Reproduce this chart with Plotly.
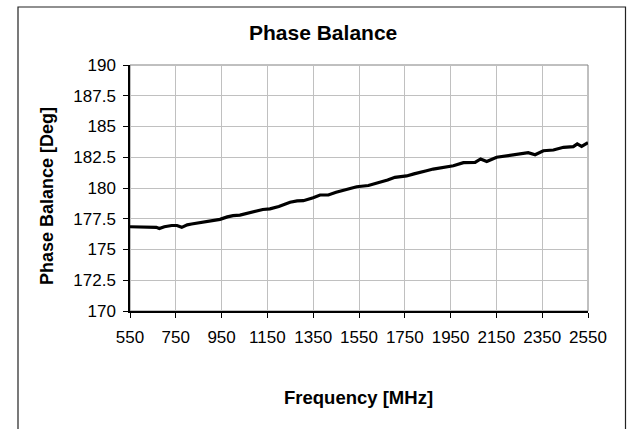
import plotly.graph_objects as go

freq_mhz = [550, 600, 650, 665, 678, 700, 732, 755, 776, 800, 819, 850, 877, 910, 943,
            975, 1000, 1030, 1060, 1100, 1130, 1161, 1200, 1249, 1280, 1307, 1350, 1380,
            1416, 1450, 1489, 1515, 1540, 1591, 1642, 1675, 1707, 1758, 1790, 1816, 1845,
            1874, 1918, 1962, 2006, 2057, 2081, 2108, 2151, 2209, 2253, 2289, 2319, 2355,
            2399, 2443, 2486, 2503, 2522, 2550]
phase_deg = [176.85, 176.85, 176.85, 176.8, 176.7, 176.85, 176.95, 176.95, 176.8, 177.0,
             177.07, 177.15, 177.26, 177.3, 177.45, 177.65, 177.75, 177.8, 177.95, 178.1,
             178.25, 178.3, 178.5, 178.84, 178.95, 178.97, 179.2, 179.43, 179.43, 179.65,
             179.84, 179.95, 180.1, 180.2, 180.46, 180.65, 180.87, 180.98, 181.15, 181.3,
             181.4, 181.54, 181.68, 181.81, 182.06, 182.09, 182.36, 182.15, 182.5, 182.63,
             182.74, 182.87, 182.7, 183.03, 183.09, 183.31, 183.36, 183.58, 183.38, 183.68]

x_ticks = [550, 750, 950, 1150, 1350, 1550, 1750, 1950, 2150, 2350, 2550]
y_ticks = [170, 172.5, 175, 177.5, 180, 182.5, 185, 187.5, 190]
y_tick_labels = ["170", "172.5", "175", "177.5", "180", "182.5", "185", "187.5", "190"]

FONT = "Liberation Sans, Arial, sans-serif"

fig = go.Figure()
fig.add_trace(go.Scatter(x=freq_mhz, y=phase_deg, mode="lines",
                         line=dict(color="black", width=3.2), showlegend=False))

W, H = 632, 429
L, R, T, B = 130, 588, 65, 311
pw, ph = R - L, B - T

def px(xp):
    return (xp - L) / pw

def py(yp):
    return (B - yp) / ph

fig.update_layout(
    width=W, height=H,
    margin=dict(l=L, r=W - R, t=T, b=H - B),
    paper_bgcolor="white", plot_bgcolor="white",
    font=dict(family=FONT, color="black", size=17),
    xaxis=dict(range=[550, 2550], tickvals=x_ticks, ticks="outside", ticklen=5,
               tickcolor="black", showgrid=True, gridcolor="#c0c0c0", gridwidth=1,
               showline=True, linecolor="black", linewidth=1.5, zeroline=False,
               tickfont=dict(size=17), ticklabelstandoff=5),
    yaxis=dict(range=[170, 190], tickvals=y_ticks, ticktext=y_tick_labels,
               ticks="outside", ticklen=5, tickcolor="black", showgrid=True,
               gridcolor="#c0c0c0", gridwidth=1, showline=True, linecolor="black",
               linewidth=1.5, zeroline=False, tickfont=dict(size=17),
               ticklabelstandoff=4),
    shapes=[
        dict(type="rect", xref="paper", yref="paper", x0=0, x1=1, y0=0, y1=1,
             line=dict(color="#808080", width=1), layer="below"),
        dict(type="rect", xref="paper", yref="paper", x0=px(18), x1=px(625.5),
             y0=py(440), y1=py(7), line=dict(color="#222222", width=1.2)),
    ],
    annotations=[
        dict(text="<b>Phase Balance</b>", xref="paper", yref="paper", x=px(323), y=py(33),
             showarrow=False, font=dict(size=21), xanchor="center", yanchor="middle"),
        dict(text="<b>Frequency [MHz]</b>", xref="paper", yref="paper", x=px(358), y=py(397),
             showarrow=False, font=dict(size=18.5), xanchor="center", yanchor="middle"),
        dict(text="<b>Phase Balance [Deg]</b>", xref="paper", yref="paper", x=px(47),
             y=py(196), showarrow=False, font=dict(size=18), textangle=-90,
             xanchor="center", yanchor="middle"),
    ],
)

fig.write_html("out.html", config={"displayModeBar": False},
               post_script="document.body.style.margin='0';")
